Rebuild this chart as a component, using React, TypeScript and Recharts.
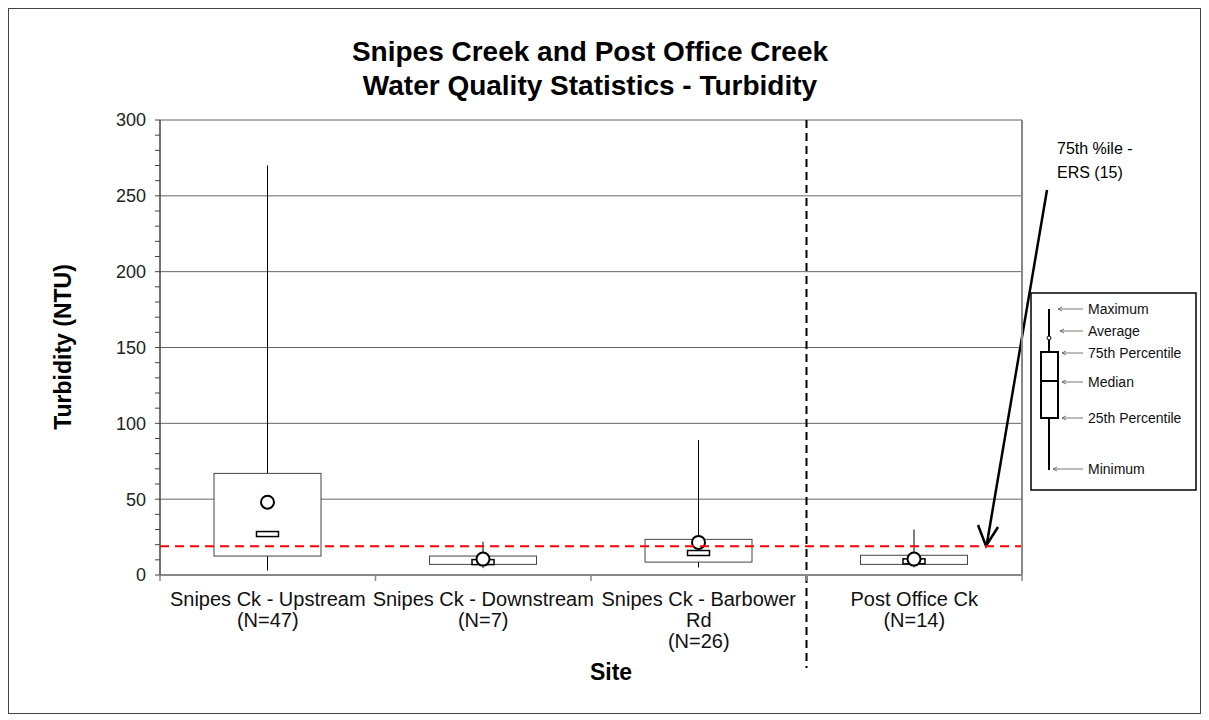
import React from "react"
import { ComposedChart, Bar, XAxis, YAxis, CartesianGrid, ReferenceLine, Customized } from "recharts"

// site labels (wrapped like the original) and sample sizes
const siteLines = [
  ["Snipes Ck - Upstream"],
  ["Snipes Ck - Downstream"],
  ["Snipes Ck - Barbower", "Rd"],
  ["Post Office Ck"],
]
const sampleCounts = [47, 7, 26, 14]

// box plot statistics (NTU)
const minimum = [3, 4.5, 5, 5]
const q1 = [12.5, 7, 8.5, 7]
const median = [27, 8.5, 14.5, 9]
const q3 = [67, 12.5, 23.5, 13]
const maximum = [270, 22, 89, 30]
const average = [48, 10.5, 21.5, 10.5]

const ersLimit = 19
const yTicks = [0, 10, 20, 30, 40, 50, 60, 70, 80, 90, 100, 110, 120, 130, 140, 150, 160, 170, 180, 190, 200, 210, 220, 230, 240, 250, 260, 270, 280, 290, 300]
const yMajor = [50, 100, 150, 200, 250, 300]
const xTicks = [0.5, 1, 1.5, 2, 2.5, 3, 3.5, 4, 4.5]

const data = siteLines.map((lines, i) => ({
  pos: i + 1,
  lines,
  n: sampleCounts[i],
  min: minimum[i],
  q1: q1[i],
  median: median[i],
  q3: q3[i],
  max: maximum[i],
  mean: average[i],
}))

const FONT = "'Liberation Sans', Arial, sans-serif"
const BOX_W = 107

const BoxShape = (props: any) => {
  const { x, y, width, height, payload } = props
  if (!payload || !height) return null
  const bottom = y + height
  const k = height / payload.max
  const py = (v: number) => bottom - v * k
  const cx = x + width / 2
  return (
    <g>
      <line x1={cx} x2={cx} y1={py(payload.max)} y2={py(payload.min)} stroke="#000" strokeWidth={1} />
      <rect x={cx - BOX_W / 2} y={py(payload.q3)} width={BOX_W} height={py(payload.q1) - py(payload.q3)} fill="#fff" stroke="#444" strokeWidth={1} />
      <rect x={cx - 11} y={py(payload.median) - 2.5} width={22} height={5} fill="#fff" stroke="#000" strokeWidth={1.5} />
      <circle cx={cx} cy={py(payload.mean)} r={6.5} fill="#fff" stroke="#000" strokeWidth={2} />
    </g>
  )
}

const SiteTick = (props: any) => {
  const { x, y, payload } = props
  const v = payload.value
  if (!Number.isInteger(v)) {
    return <line x1={x} x2={x} y1={y} y2={y + 6} stroke="#888" strokeWidth={1.5} />
  }
  const d = data[v - 1]
  const lines = [...d.lines, `(N=${d.n})`]
  return (
    <g>
      {lines.map((t, i) => (
        <text key={i} x={x} y={y + 31 + i * 21} textAnchor="middle" fontFamily={FONT} fontSize={20} fill="#111">
          {t}
        </text>
      ))}
    </g>
  )
}

const DividerLine = (props: any) => {
  const { x1, y1, y2 } = props
  const top = Math.min(y1, y2)
  const bot = Math.max(y1, y2)
  return <line x1={x1} x2={x1} y1={top} y2={bot + 93} stroke="#000" strokeWidth={2} strokeDasharray="8 5" />
}

const LegendArrow = ({ x1, x2, y }: { x1: number; x2: number; y: number }) => (
  <g stroke="#555" strokeWidth={0.8} fill="none">
    <line x1={x1} x2={x2} y1={y} y2={y} />
    <polyline points={`${x2 + 4},${y - 2} ${x2},${y} ${x2 + 4},${y + 2}`} />
  </g>
)

const Overlay = () => {
  const legendItems = [
    { label: "Maximum", y: 300, x2: 1049 },
    { label: "Average", y: 322, x2: 1051 },
    { label: "75th Percentile", y: 344, x2: 1053 },
    { label: "Median", y: 373, x2: 1053 },
    { label: "25th Percentile", y: 409, x2: 1053 },
    { label: "Minimum", y: 460, x2: 1044 },
  ]
  return (
    <g fontFamily={FONT}>
      <text x={581} y={52} textAnchor="middle" fontSize={28} fontWeight="bold" fill="#000">
        Snipes Creek and Post Office Creek
      </text>
      <text x={581} y={86} textAnchor="middle" fontSize={28} fontWeight="bold" fill="#000">
        Water Quality Statistics - Turbidity
      </text>
      <text x={54} y={338} transform="rotate(-90 54 338)" textAnchor="middle" dominantBaseline="central" fontSize={23} fontWeight="bold" fill="#000">
        Turbidity (NTU)
      </text>
      <text x={602} y={671} textAnchor="middle" fontSize={23} fontWeight="bold" fill="#000">
        Site
      </text>

      {/* ERS annotation */}
      <text x={1048} y={145} fontSize={16} fill="#000">75th %ile -</text>
      <text x={1048} y={169} fontSize={16} fill="#000">ERS (15)</text>
      <line x1={1038} y1={181} x2={978} y2={534} stroke="#000" strokeWidth={2.5} />
      <polyline points="969,516 977,537 989,518" fill="none" stroke="#000" strokeWidth={2.5} />

      {/* key box */}
      <rect x={1022} y={284} width={165} height={197} fill="#fff" stroke="#000" strokeWidth={1.5} />
      <line x1={1040} x2={1040} y1={300} y2={461} stroke="#000" strokeWidth={2} />
      <rect x={1032} y={343} width={17} height={66} fill="#fff" stroke="#000" strokeWidth={2} />
      <line x1={1033} x2={1048} y1={372} y2={372} stroke="#000" strokeWidth={2} />
      <circle cx={1040} cy={329} r={2} fill="#fff" stroke="#000" strokeWidth={1} />
      {legendItems.map((it) => (
        <g key={it.label}>
          <LegendArrow x1={1074} x2={it.x2} y={it.y} />
          <text x={1079} y={it.y} dominantBaseline="central" fontSize={14} fill="#111">
            {it.label}
          </text>
        </g>
      ))}
    </g>
  )
}

export default function App() {
  return (
    <div style={{ width: 1191, height: 704, border: "1px solid #444", background: "#fff" }}>
      <ComposedChart width={1191} height={704} data={data} margin={{ top: 111, right: 177, bottom: 137, left: 101 }}>
        <CartesianGrid horizontal={true} vertical={false} horizontalValues={yMajor} stroke="#666" strokeWidth={1} />
        <XAxis
          dataKey="pos"
          type="number"
          domain={[0.5, 4.5]}
          ticks={xTicks}
          interval={0}
          height={1}
          tickSize={0}
          tickMargin={0}
          tickLine={false}
          axisLine={{ stroke: "#888", strokeWidth: 2 }}
          tick={<SiteTick />}
        />
        <YAxis
          type="number"
          domain={[0, 300]}
          ticks={yTicks}
          interval={0}
          width={50}
          tickSize={5}
          tickMargin={9}
          axisLine={{ stroke: "#444", strokeWidth: 1.5 }}
          tickLine={{ stroke: "#444" }}
          tick={{ fontFamily: FONT, fontSize: 18, fill: "#222" }}
          tickFormatter={(v: number) => (v % 50 === 0 ? String(v) : "")}
        />
        <YAxis yAxisId="right" orientation="right" domain={[0, 300]} width={1} ticks={[0, 300]} tick={false} tickLine={false} axisLine={{ stroke: "#888", strokeWidth: 2 }} />
        <Bar dataKey="max" barSize={BOX_W} shape={<BoxShape />} isAnimationActive={false} />
        <ReferenceLine y={ersLimit} stroke="#ff0000" strokeWidth={2} strokeDasharray="9 6" />
        <ReferenceLine x={3.5} stroke="#000" shape={<DividerLine />} />
        <Customized component={Overlay} />
      </ComposedChart>
    </div>
  )
}
